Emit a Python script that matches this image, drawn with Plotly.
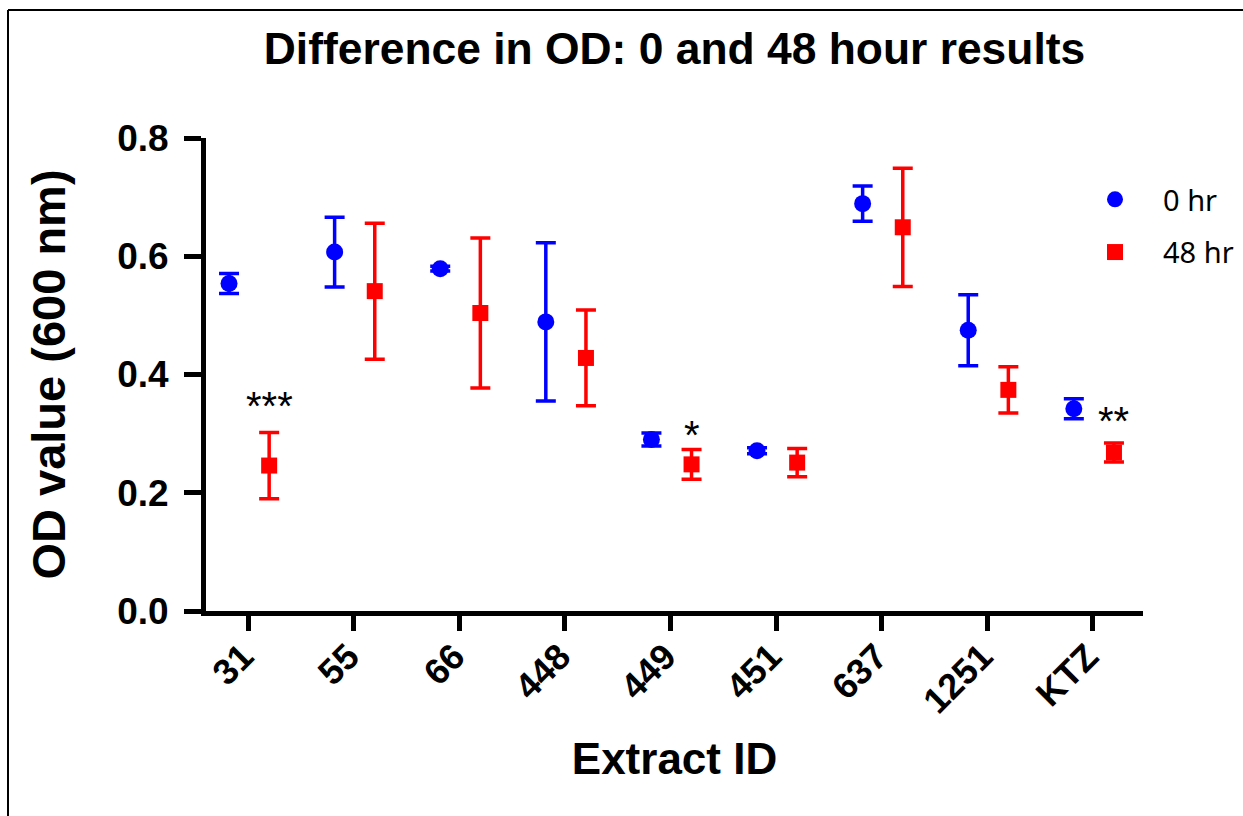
import plotly.graph_objects as go

categories = ["31", "55", "66", "448", "449", "451", "637", "1251", "KTZ"]
od_0hr = [0.554, 0.607, 0.579, 0.489, 0.290, 0.271, 0.689, 0.475, 0.342]
err_0hr = [0.017, 0.059, 0.004, 0.134, 0.011, 0.005, 0.030, 0.060, 0.017]
od_48hr = [0.246, 0.541, 0.504, 0.428, 0.248, 0.251, 0.649, 0.374, 0.268]
err_48hr = [0.056, 0.115, 0.127, 0.081, 0.025, 0.024, 0.100, 0.039, 0.016]
sig_labels = ["***", "", "", "", "*", "", "", "", "**"]
sig_y = [0.357, None, None, None, 0.307, None, None, None, 0.332]

# layout (pixel geometry)
W, H = 1243, 816
L, R, T, B = 206, 100, 138, 205
off_0, off_48 = -0.18, 0.20

idx = list(range(len(categories)))
x0 = [i + off_0 for i in idx]
x48 = [i + off_48 for i in idx]

BLUE = "#0000FF"
RED = "#FF0000"

fig = go.Figure()
fig.add_trace(go.Scatter(
    x=x0, y=od_0hr, mode="markers", name="0 hr", legendgroup="a",
    marker=dict(symbol="circle", size=17, color=BLUE),
    error_y=dict(type="data", array=err_0hr, visible=True, color=BLUE,
                 thickness=3.5, width=10),
))
fig.add_trace(go.Scatter(
    x=x48, y=od_48hr, mode="markers", name="48 hr", legendgroup="b",
    marker=dict(symbol="square", size=16, color=RED),
    error_y=dict(type="data", array=err_48hr, visible=True, color=RED,
                 thickness=3.5, width=10),
))

annotations = []
for i, s in enumerate(sig_labels):
    if s:
        annotations.append(dict(
            x=x48[i], y=sig_y[i], xref="x", yref="y",
            text=s, showarrow=False, yanchor="middle", yshift=-6,
            font=dict(family="Liberation Sans", size=40, color="black"),
        ))

pw = W - L - R
ph = H - T - B
def px_x(p):
    return (p - L) / pw
def px_y(p):
    return (H - B - p) / ph

shapes = [
    dict(type="line", xref="paper", yref="paper",
         x0=px_x(8), x1=px_x(W + 5), y0=px_y(10), y1=px_y(10),
         line=dict(color="black", width=2)),
    dict(type="line", xref="paper", yref="paper",
         x0=px_x(8), x1=px_x(8), y0=px_y(10), y1=px_y(H + 5),
         line=dict(color="black", width=2)),
]

bold = dict(family="Liberation Sans", color="black", weight="bold")

fig.update_layout(
    width=W, height=H,
    margin=dict(l=L, r=R, t=T, b=B, autoexpand=False),
    paper_bgcolor="white", plot_bgcolor="white",
    title=dict(text="Difference in OD: 0 and 48 hour results",
               x=0.5, xref="paper", xanchor="center",
               y=1 - 48 / H, yref="container", yanchor="middle",
               font=dict(size=44.4, **bold)),
    xaxis=dict(
        range=[-0.398, 8.475], tickmode="array", tickvals=idx,
        ticktext=categories, tickangle=-45,
        showgrid=False, zeroline=False,
        showline=True, linecolor="black", linewidth=5,
        ticks="outside", ticklen=15, tickwidth=5, tickcolor="black",
        ticklabelstandoff=-10, ticklabelshift=-5,
        tickfont=dict(size=36, **bold),
        title=dict(text="Extract ID", font=dict(size=44, **bold), standoff=24),
    ),
    yaxis=dict(
        range=[0, 0.8], tickmode="array", tickvals=[0, 0.2, 0.4, 0.6, 0.8],
        ticktext=["0.0", "0.2", "0.4", "0.6", "0.8"],
        showgrid=False, zeroline=False,
        showline=True, linecolor="black", linewidth=5,
        ticks="outside", ticklen=17, tickwidth=5, tickcolor="black",
        ticklabelstandoff=8,
        tickfont=dict(size=37, **bold),
        title=dict(text="OD value (600 nm)", font=dict(size=47, **bold), standoff=38),
    ),
    legend=dict(
        x=px_x(1067), y=px_y(174), xanchor="left", yanchor="top",
        bgcolor="rgba(0,0,0,0)", borderwidth=0,
        font=dict(family="Noto Sans", size=29, color="black"),
        itemwidth=86, tracegroupgap=12, itemsizing="trace",
    ),
    annotations=annotations,
    shapes=shapes,
    showlegend=True,
)

fig.write_html("out.html", config={"displayModeBar": False},
               post_script="document.body.style.margin='0';")
